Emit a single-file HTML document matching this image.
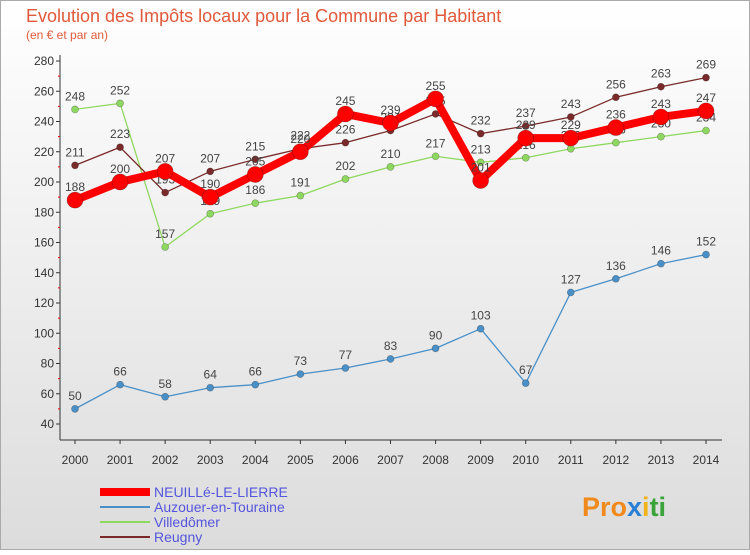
<!DOCTYPE html>
<html><head><meta charset="utf-8"><style>
body{margin:0;width:750px;height:550px;overflow:hidden;font-family:"Liberation Sans",sans-serif}
svg text{font-family:"Liberation Sans",sans-serif}
</style></head><body>
<svg id="c" width="750" height="550">
<defs><linearGradient id="bg" x1="0" y1="0" x2="0" y2="1"><stop offset="0" stop-color="#ffffff"/><stop offset="1" stop-color="#dcdcdc"/></linearGradient></defs>
<rect x="0.5" y="0.5" width="749" height="549" fill="url(#bg)" stroke="#aaa"/>
<text x="26" y="22" font-size="18" fill="#e0593a">Evolution des Impôts locaux pour la Commune par Habitant</text>
<text x="26" y="39" font-size="12" fill="#e0593a">(en € et par an)</text>
<g id="axes"></g><g id="marks"></g><g id="legend"></g>
<text x="582" y="516" font-size="27" font-weight="bold"><tspan fill="#f08a1c">Pro</tspan><tspan fill="#2a7fd4">x</tspan><tspan fill="#f0b31c">i</tspan><tspan fill="#3aa33a">ti</tspan></text>
</svg>
<script>
const years=[2000,2001,2002,2003,2004,2005,2006,2007,2008,2009,2010,2011,2012,2013,2014];
const yTicks=[40,60,80,100,120,140,160,180,200,220,240,260,280];
const neuille=[188,200,207,190,205,220,245,239,255,201,229,229,236,243,247];
const azouer=[50,66,58,64,66,73,77,83,90,103,67,127,136,146,152];
const villedomer=[248,252,157,179,186,191,202,210,217,213,216,222,226,230,234];
const reugny=[211,223,193,207,215,222,226,234,245,232,237,243,256,263,269];
const NS='http://www.w3.org/2000/svg';
function X(i){return 75+i*(706-75)/14;}
function Y(v){return 424-(v-40)*(424-61)/240;}
function mk(tag,attrs,parent,txt){const e=document.createElementNS(NS,tag);for(const k in attrs)e.setAttribute(k,attrs[k]);if(txt!==undefined)e.textContent=txt;parent.appendChild(e);return e;}
const axes=document.getElementById('axes'),marks=document.getElementById('marks'),leg=document.getElementById('legend');
let a=mk('line',{x1:60,y1:55,x2:60,y2:440,stroke:'#333'},axes);

a=mk('line',{x1:60,y1:440,x2:722,y2:440,stroke:'#333'},axes);

yTicks.forEach(v=>{
 const t=mk('text',{x:54,y:Y(v)+4,'font-size':12,fill:'#333','text-anchor':'end'},axes,v);
 
 mk('line',{x1:56,y1:Y(v),x2:60,y2:Y(v),stroke:'#333'},axes);
 if(v<280)mk('line',{x1:58,y1:Y(v+10),x2:60,y2:Y(v+10),stroke:'#e00'},axes);
});
years.forEach((y,i)=>{
 const t=mk('text',{x:X(i),y:464,'font-size':12,fill:'#333','text-anchor':'middle'},axes,y);
 
 mk('line',{x1:X(i),y1:440,x2:X(i),y2:444,stroke:'#333'},axes);
});
const series=[
 {d:azouer,c:'#4a90c8',w:1.3,r:3.5,n:'auzouer'},
 {d:villedomer,c:'#8fd860',w:1.3,r:3.5,n:'villedomer'},
 {d:reugny,c:'#7a2a2a',w:1.3,r:3.5,n:'reugny'},
 {d:neuille,c:'#ff0000',w:8,r:8,n:'neuille'}];
series.forEach(s=>{
 const p=mk('polyline',{points:s.d.map((v,i)=>X(i)+','+Y(v)).join(' '),fill:'none',stroke:s.c,'stroke-width':s.w,'stroke-linejoin':'round'},marks);
 
 s.d.forEach((v,i)=>{
  const c=mk('circle',{cx:X(i),cy:Y(v),r:s.r,fill:s.c,stroke:'rgba(0,0,0,0.3)','stroke-width':0.7},marks);
  
  const t=mk('text',{x:X(i),y:Y(v)-9,'font-size':12,fill:'#444','text-anchor':'middle'},marks,v);
  
 });
});
const names=['NEUILLé-LE-LIERRE','Auzouer-en-Touraine','Villedômer','Reugny'];
const lc=['#ff0000','#4a90c8','#8fd860','#7a2a2a'],lw=[8,2,2,2];
names.forEach((n,i)=>{
 const y=492+i*15;
 const l=mk('line',{x1:100,y1:y,x2:150,y2:y,stroke:lc[i],'stroke-width':lw[i]},leg);
 
 const t=mk('text',{x:154,y:y+5,'font-size':14,fill:'#5555dd'},leg,n);
 
});
</script>
</body></html>
